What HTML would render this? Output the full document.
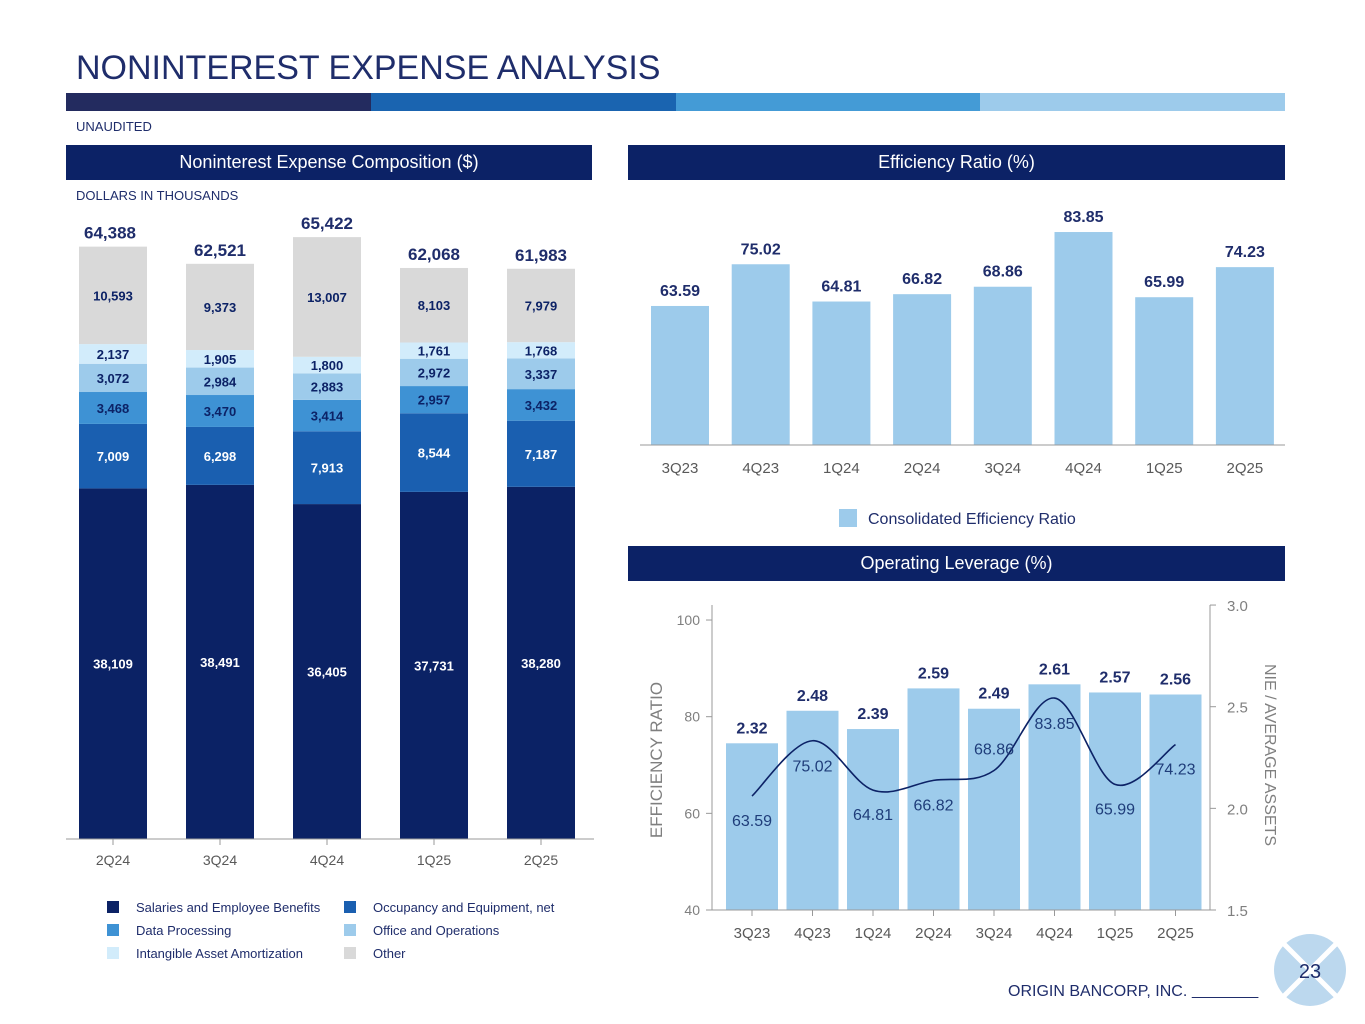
<!DOCTYPE html>
<html><head><meta charset="utf-8"><style>
body{margin:0;width:1365px;height:1024px;background:#fff;font-family:"Liberation Sans",sans-serif;position:relative;overflow:hidden}
.abs{position:absolute}
.hdr{position:absolute;height:35px;background:#0c2266;color:#fff;font-size:18px;line-height:35px;text-align:center}
</style></head><body>
<div class="abs" style="left:76px;top:49px;font-size:34px;color:#1f2d6b">NONINTEREST EXPENSE ANALYSIS</div>
<div class="abs" style="left:66px;top:93px;width:1219px;height:18px;display:flex">
<div style="flex:1;background:#232b5f"></div><div style="flex:1;background:#1a64b0"></div><div style="flex:1;background:#449bd6"></div><div style="flex:1;background:#9dcbeb"></div></div>
<div class="abs" style="left:76px;top:119px;font-size:13px;color:#1f2d6b">UNAUDITED</div>
<div class="hdr" style="left:66px;top:145px;width:526px">Noninterest Expense Composition ($)</div>
<div class="hdr" style="left:628px;top:145px;width:657px">Efficiency Ratio (%)</div>
<div class="hdr" style="left:628px;top:546px;width:657px">Operating Leverage (%)</div>
<div class="abs" style="left:76px;top:188px;font-size:13px;color:#1f2d6b">DOLLARS IN THOUSANDS</div>
<svg class="abs" style="left:0;top:0" width="1365" height="1024" id="svg"></svg>
<div class="abs" style="left:1008px;top:983px;font-size:16px;color:#1f2d6b">ORIGIN BANCORP, INC. <span style="text-decoration:underline">&nbsp;&nbsp;&nbsp;&nbsp;&nbsp;&nbsp;&nbsp;&nbsp;&nbsp;&nbsp;&nbsp;&nbsp;&nbsp;&nbsp;&nbsp;</span></div>
<script>
const stackCats=["2Q24","3Q24","4Q24","1Q25","2Q25"];
const salaries=[38109,38491,36405,37731,38280];
const occupancy=[7009,6298,7913,8544,7187];
const dataProc=[3468,3470,3414,2957,3432];
const office=[3072,2984,2883,2972,3337];
const intangible=[2137,1905,1800,1761,1768];
const other=[10593,9373,13007,8103,7979];
const totals=[64388,62521,65422,62068,61983];
const effCats=["3Q23","4Q23","1Q24","2Q24","3Q24","4Q24","1Q25","2Q25"];
const effVals=[63.59,75.02,64.81,66.82,68.86,83.85,65.99,74.23];
const nieVals=[2.32,2.48,2.39,2.59,2.49,2.61,2.57,2.56];
const leftTicks=[40,60,80,100];
const rightTicks=["1.5","2.0","2.5","3.0"];

const NS="http://www.w3.org/2000/svg",svg=document.getElementById('svg');
function el(t,a,txt){const e=document.createElementNS(NS,t);for(const k in a)e.setAttribute(k,a[k]);if(txt!==undefined)e.textContent=txt;svg.appendChild(e);return e;}
const fmt=v=>v.toLocaleString('en-US');
// stacked
const sx=i=>113+i*107, sy=v=>839-v*0.0092;
const series=[[salaries,'#0b2265','#fff','salaries'],[occupancy,'#1a5fb0','#fff','occupancy'],[dataProc,'#3e92d4','#0c2266','data-processing'],[office,'#9dcbeb','#0c2266','office'],[intangible,'#d2ecfb','#0c2266','intangible'],[other,'#d9d9d9','#0c2266','other']];
stackCats.forEach((c,i)=>{
 let base=0;
 series.forEach(([arr,col,tc,nm])=>{
  const y0=sy(base),y1=sy(base+arr[i]);
  const r=el('rect',{x:sx(i)-34,y:y1,width:68,height:y0-y1,fill:col});
  
  
  const t=el('text',{x:sx(i),y:(y0+y1)/2+5,'text-anchor':'middle','font-size':13,'font-weight':'bold',fill:tc},fmt(arr[i]));
  
  
  base+=arr[i];
 });
 const tt=el('text',{x:sx(i)-(i==0?3:0),y:sy(totals[i])-8,'text-anchor':'middle','font-size':17,'font-weight':'bold',fill:'#1f2d6b'},fmt(totals[i]));
 
 
 const xl=el('text',{x:sx(i),y:865,'text-anchor':'middle','font-size':14,fill:'#595959'},c);
 
 
 el('line',{x1:sx(i),x2:sx(i),y1:839,y2:845,stroke:'#999'});
});
el('line',{x1:66,x2:594,y1:839,y2:839,stroke:'#999'});
const legItems=[['Salaries and Employee Benefits','#0b2265',107,907],['Occupancy and Equipment, net','#1a5fb0',344,907],['Data Processing','#3e92d4',107,930],['Office and Operations','#9dcbeb',344,930],['Intangible Asset Amortization','#d2ecfb',107,953],['Other','#d9d9d9',344,953]];
legItems.forEach(([n,c,x,y])=>{
 const r=el('rect',{x:x,y:y-6,width:12,height:12,fill:c});
 
 
 const t=el('text',{x:x+29,y:y+5,'font-size':13,fill:'#1f2d6b'},n);
 
 
});
// efficiency bars
const ex=i=>680+i*80.7, ey=v=>445-(v-25.5)*3.65;
effCats.forEach((c,i)=>{
 const r=el('rect',{x:ex(i)-29,y:ey(effVals[i]),width:58,height:445-ey(effVals[i]),fill:'#9dcbeb'});
 
 
 const t=el('text',{x:ex(i),y:ey(effVals[i])-10,'text-anchor':'middle','font-size':16,'font-weight':'bold',fill:'#1f2d6b'},effVals[i].toFixed(2));
 
 
 const xl=el('text',{x:ex(i),y:473,'text-anchor':'middle','font-size':15,fill:'#595959'},c);
 
 
});
el('line',{x1:640,x2:1285,y1:445,y2:445,stroke:'#999'});
const ls=el('rect',{x:839,y:509,width:18,height:18,fill:'#9dcbeb'});


const lt=el('text',{x:868,y:524,'font-size':16,fill:'#1f2d6b'},'Consolidated Efficiency Ratio');


// operating leverage
const ox=i=>752+i*60.5, oyL=v=>910-(v-40)*4.833, oyR=v=>910-(v-1.5)*203.3;
nieVals.forEach((v,i)=>{
 const r=el('rect',{x:ox(i)-26,y:oyR(v),width:52,height:910-oyR(v),fill:'#9dcbeb'});
 
 
 const t=el('text',{x:ox(i),y:oyR(v)-10,'text-anchor':'middle','font-size':16,'font-weight':'bold',fill:'#1f2d6b'},v.toFixed(2));
 
 
 const xl=el('text',{x:ox(i),y:938,'text-anchor':'middle','font-size':15,fill:'#595959'},effCats[i]);
 
 
 el('line',{x1:ox(i),x2:ox(i),y1:910,y2:916,stroke:'#999'});
});
let d='';
const pts=effVals.map((v,i)=>[ox(i),oyL(v)]);
pts.forEach((p,i)=>{
 if(i==0){d='M'+p[0]+','+p[1];return;}
 const p0=pts[i-2]||pts[i-1],p1=pts[i-1],p3=pts[i+1]||p;
 const c1=[p1[0]+(p[0]-p0[0])/6,p1[1]+(p[1]-p0[1])/6],c2=[p[0]-(p3[0]-p1[0])/6,p[1]-(p3[1]-p1[1])/6];
 d+=' C'+c1+' '+c2+' '+p;
});
const line=el('path',{d:d,fill:'none',stroke:'#0c2266','stroke-width':1.6});


const lblOff=[24,25,24,24,-22,25,24,24];
effVals.forEach((v,i)=>{
 const t=el('text',{x:ox(i),y:oyL(v)+lblOff[i]+6,'text-anchor':'middle','font-size':16,fill:'#1f3d7a'},v.toFixed(2));
 
 
});
el('line',{x1:712,x2:712,y1:605,y2:910,stroke:'#999'});
el('line',{x1:1210,x2:1210,y1:605,y2:910,stroke:'#999'});
el('line',{x1:712,x2:1210,y1:910,y2:910,stroke:'#999'});
leftTicks.forEach(v=>{
 el('line',{x1:706,x2:712,y1:oyL(v),y2:oyL(v),stroke:'#999'});
 const t=el('text',{x:700,y:oyL(v)+5,'text-anchor':'end','font-size':14,fill:'#7f7f7f'},v);
 
 
});
rightTicks.forEach(v=>{
 el('line',{x1:1210,x2:1216,y1:oyR(+v),y2:oyR(+v),stroke:'#999'});
 const t=el('text',{x:1227,y:oyR(+v)+6,'font-size':15,fill:'#7f7f7f'},v);
 
 
});
const yt=el('text',{x:662,y:760,'text-anchor':'middle','font-size':17,fill:'#7f7f7f',transform:'rotate(-90 662 760)'},'EFFICIENCY RATIO');


const yt2=el('text',{x:1265,y:755,'text-anchor':'middle','font-size':16,fill:'#7f7f7f',transform:'rotate(90 1265 755)'},'NIE / AVERAGE ASSETS');


// page badge
el('circle',{cx:1310,cy:970,r:36,fill:'#bcd8ee'});
el('line',{x1:1283,y1:943,x2:1337,y2:997,stroke:'#fff','stroke-width':5});
el('line',{x1:1337,y1:943,x2:1283,y2:997,stroke:'#fff','stroke-width':5});
const pn=el('text',{x:1310,y:978,'text-anchor':'middle','font-size':20,fill:'#1f2d6b'},'23');


</script>
</body></html>
